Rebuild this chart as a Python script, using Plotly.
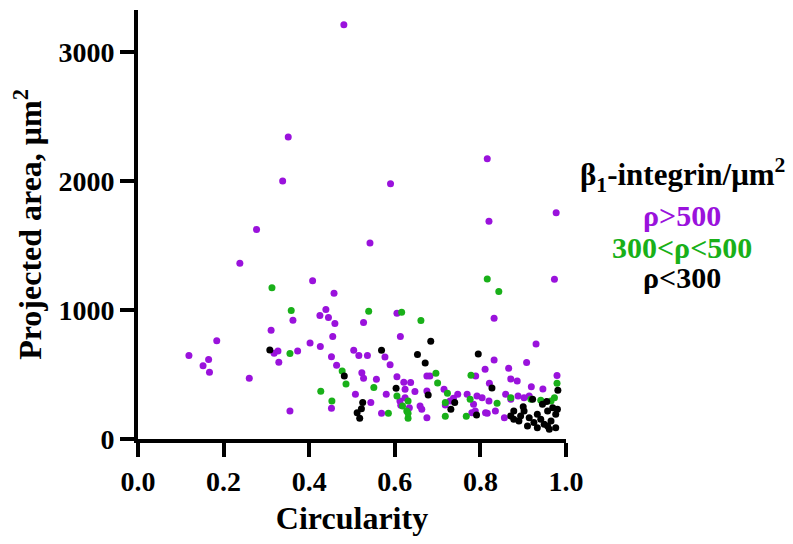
import plotly.graph_objects as go

# Circularity vs projected area, split by beta1-integrin density
high_x = [0.481, 0.351, 0.338, 0.590, 0.816, 0.820, 0.977, 0.542, 0.277, 0.238, 0.408, 0.973,
          0.458, 0.832, 0.362, 0.439, 0.425, 0.445, 0.460, 0.311, 0.455, 0.184, 0.402, 0.426,
          0.327, 0.318, 0.373, 0.119, 0.165, 0.152, 0.329, 0.452, 0.464, 0.167, 0.260, 0.452,
          0.355, 0.605, 0.527, 0.613, 0.930, 0.504, 0.516, 0.536, 0.577, 0.589, 0.832, 0.908,
          0.866, 0.811, 0.523, 0.527, 0.557, 0.675, 0.682, 0.605, 0.789, 0.979, 0.871, 0.886,
          0.621, 0.637, 0.508, 0.580, 0.821, 0.919, 0.946, 0.624, 0.647, 0.675, 0.715, 0.747,
          0.769, 0.792, 0.859, 0.888, 0.914, 0.544, 0.569, 0.612, 0.614, 0.659, 0.663, 0.675,
          0.718, 0.729, 0.816, 0.784, 0.835, 0.856, 0.804, 0.820, 0.871, 0.902, 0.788, 0.812,
          0.624, 0.634, 0.737, 0.780]
high_y = [3209, 2339, 1998, 1977, 2171, 1687, 1752, 1519, 1623, 1362, 1225, 1237,
          1129, 935, 920, 1003, 956, 941, 894, 842, 793, 762, 744, 716,
          682, 664, 682, 646, 615, 568, 594, 638, 571, 517, 470, 238,
          217, 974, 902, 793, 736, 687, 646, 646, 636, 576, 612, 592,
          548, 540, 514, 470, 463, 488, 488, 483, 488, 491, 465, 450,
          440, 437, 347, 347, 432, 405, 388, 385, 367, 372, 385, 347,
          347, 333, 347, 333, 333, 282, 199, 295, 261, 256, 230, 165,
          264, 295, 199, 269, 217, 165, 320, 295, 308, 320, 217, 204,
          320, 243, 315, 204]

mid_x = [0.816, 0.843, 0.313, 0.358, 0.355, 0.477, 0.486, 0.427, 0.453, 0.539, 0.616, 0.661,
         0.696, 0.778, 0.979, 0.551, 0.700, 0.605, 0.723, 0.585, 0.618, 0.628, 0.631, 0.631,
         0.718, 0.767, 0.839, 0.871, 0.918, 0.941, 0.965, 0.973, 0.718, 0.776, 0.631]
mid_y = [1240, 1142, 1171, 995, 662, 527, 426, 369, 295, 990, 982, 917,
         509, 494, 432, 398, 434, 333, 354, 199, 256, 217, 160, 295,
         176, 176, 277, 320, 308, 300, 295, 320, 282, 308, 199]

low_x = [0.308, 0.482, 0.684, 0.569, 0.795, 0.653, 0.671, 0.603, 0.827, 0.981, 0.678, 0.525,
         0.522, 0.512, 0.518, 0.731, 0.740, 0.791, 0.878, 0.902, 0.922, 0.878, 0.890, 0.910,
         0.933, 0.949, 0.965, 0.976, 0.957, 0.933, 0.914, 0.894, 0.945, 0.969, 0.980, 0.925,
         0.871, 0.961, 0.976, 0.941, 0.957, 0.900, 0.955]
low_y = [690, 488, 757, 687, 659, 654, 589, 393, 395, 377, 341, 282,
         235, 204, 160, 230, 282, 186, 217, 217, 308, 153, 140, 101,
         88, 114, 140, 191, 217, 191, 165, 178, 269, 243, 230, 127,
         178, 75, 88, 153, 101, 250, 290]

x_ticks = [0, 0.2, 0.4, 0.6, 0.8, 1.0]
y_ticks = [0, 1000, 2000, 3000]

PURPLE, GREEN, BLACK = "#9A12DC", "#19B019", "#000000"
groups = [
    ("ρ>500", high_x, high_y, PURPLE),
    ("300<ρ<500", mid_x, mid_y, GREEN),
    ("ρ<300", low_x, low_y, BLACK),
]

FONT = "Liberation Serif"

fig = go.Figure()
for name, xs, ys, col in groups:
    fig.add_trace(go.Scatter(
        x=xs, y=ys, mode="markers", name=name,
        marker=dict(color=col, size=7, line=dict(width=0)),
        showlegend=False,
    ))

axis_common = dict(
    showgrid=False, zeroline=False, showline=True, linecolor="black", linewidth=4,
    ticks="outside", ticklen=14, tickwidth=4, tickcolor="black",
    tickfont=dict(family=FONT, size=28, color="black", weight="bold"),
)

fig.update_xaxes(
    range=[0, 1.0], tickvals=x_ticks, tickformat=".1f",
    title=dict(text="Circularity", font=dict(family=FONT, size=32, color="black", weight="bold"),
               standoff=12),
    **axis_common,
)
fig.update_yaxes(
    range=[0, 3323], tickvals=y_ticks,
    title=dict(text="Projected area, μm<sup>2</sup>",
               font=dict(family=FONT, size=32, color="black", weight="bold"), standoff=8),
    **axis_common,
)

W, H = 793, 544
ML, MR, MT, MB = 138, 227, 10, 105
pw, ph = W - ML - MR, H - MT - MB

# Legend drawn as coloured text on the right (positions in page pixels)
legend_lines = [
    ("β<sub>1</sub>-integrin/μm<sup>2</sup>", BLACK, 175, 31),
    ("ρ>500", PURPLE, 215, 30),
    ("300<ρ<500", GREEN, 247, 30),
    ("ρ<300", BLACK, 277, 30),
]
for txt, col, ypx, fs in legend_lines:
    fig.add_annotation(
        x=(682 - ML) / pw, y=(H - ypx - MB) / ph, xref="paper", yref="paper",
        text=txt, showarrow=False,
        font=dict(family=FONT, size=fs, color=col, weight="bold"),
        xanchor="center", yanchor="middle",
    )

fig.update_layout(
    width=W, height=H,
    margin=dict(l=ML, r=MR, t=MT, b=MB),
    plot_bgcolor="white", paper_bgcolor="white",
)

fig.write_html("out.html")
